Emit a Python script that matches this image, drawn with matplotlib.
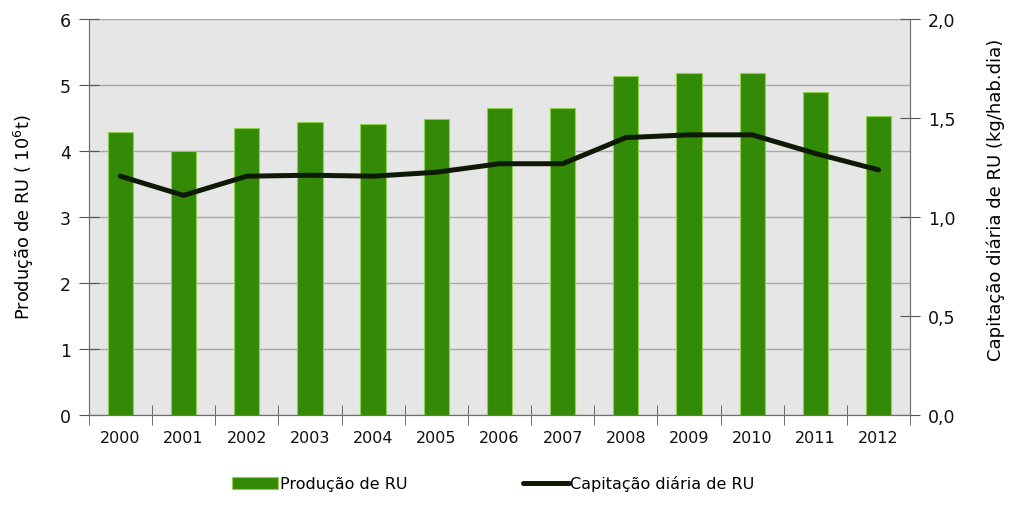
import matplotlib.pyplot as plt
import numpy as np

anos = ['2000', '2001', '2002', '2003', '2004', '2005', '2006',
        '2007', '2008', '2009', '2010', '2011', '2012']
producao = [4.29, 3.99, 4.35, 4.43, 4.40, 4.48, 4.65,
            4.65, 5.13, 5.18, 5.18, 4.89, 4.53]
capitacao = [1.205, 1.108, 1.205, 1.21, 1.205, 1.225, 1.268,
             1.268, 1.40, 1.414, 1.414, 1.32, 1.237]
ticks_dir = ['0,0', '0,5', '1,0', '1,5', '2,0']

plt.rcParams['font.family'] = ['DejaVu Sans']

fig = plt.figure(figsize=(10.09, 5.10), dpi=100)
ax = fig.add_axes([0.088, 0.185, 0.814, 0.776])
ax2 = ax.twinx()

x = np.arange(len(anos))
ax.set_facecolor('#e6e6e6')
ax.bar(x, producao, width=0.4, color='#338a06', edgecolor='#8fd14f',
       linewidth=0.8, zorder=3, label='Produção de RU')
ax.set_ylim(0, 6)
ax.set_xlim(-0.5, len(anos) - 0.5)
ax.set_yticks(range(7))
ax.grid(axis='y', color='#a8a8a8', linewidth=1, zorder=0)
ax.set_axisbelow(True)

ax.set_xticks(x)
ax.set_xticklabels(anos)
ax.set_xticks(np.arange(-0.5, len(anos)), minor=True)
ax.tick_params(axis='x', which='major', length=0, pad=11, labelsize=11.5,
               labelcolor='#111111')
ax.tick_params(axis='x', which='minor', length=14, direction='inout',
               color='#555555')
ax.tick_params(axis='y', length=14, direction='inout', color='#555555',
               labelsize=12.5, pad=6, labelcolor='#111111')

ax2.plot(x, capitacao, color='#0e1a06', linewidth=3.6,
         solid_capstyle='round', zorder=4, label='Capitação diária de RU')
ax2.set_ylim(0, 2)
ax2.set_yticks([0, 0.5, 1.0, 1.5, 2.0])
ax2.set_yticklabels(ticks_dir)
ax2.tick_params(axis='y', length=14, direction='inout', color='#555555',
                labelsize=12.5, pad=6, labelcolor='#111111')

for a in (ax, ax2):
    a.spines['top'].set_visible(False)
    a.spines['left'].set_color('#707070')
    a.spines['right'].set_color('#707070')
    a.spines['bottom'].set_color('#707070')

ax.set_ylabel('Produção de RU ( 10$^6$t)', fontsize=12.8, labelpad=17)
ax2.set_ylabel('Capitação diária de RU (kg/hab.dia)', fontsize=13,
               labelpad=22, y=0.545)

h1, l1 = ax.get_legend_handles_labels()
h2, l2 = ax2.get_legend_handles_labels()
fig.legend(h1 + h2, l1 + l2, loc='center', bbox_to_anchor=(0.489, 0.05),
           ncol=2, frameon=False, fontsize=11.5, handlelength=2.9,
           handleheight=0.8, handletextpad=0.1, columnspacing=7.2)

fig.savefig('out.png', dpi=100, facecolor='white')
